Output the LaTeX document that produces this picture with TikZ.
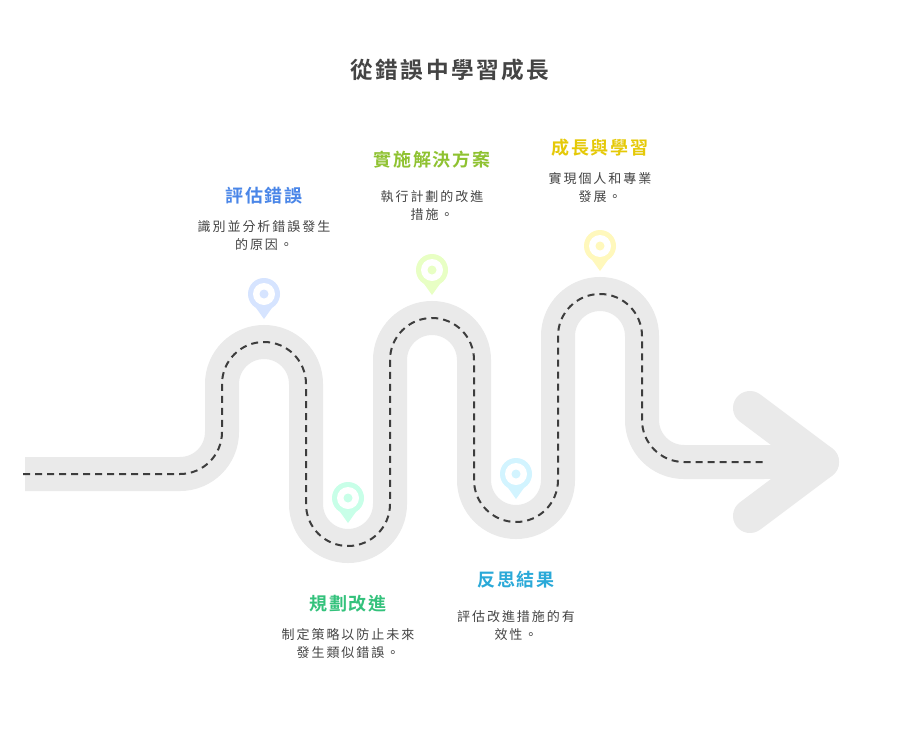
\documentclass[tikz,border=0pt]{standalone}
\usepackage{fontspec}
\setmainfont{Noto Sans CJK TC}
\newfontfamily\titlefont[LetterSpace=11,BoldFont={Noto Sans CJK TC Bold}]{Noto Sans CJK TC}
\newfontfamily\headfont[LetterSpace=10,BoldFont={Noto Sans CJK TC Bold}]{Noto Sans CJK TC}
\newfontfamily\bodyfont[LetterSpace=15]{Noto Sans CJK TC}
\definecolor{roadgrey}{HTML}{EAEAEA}
\definecolor{dashgrey}{HTML}{3D3D3D}
\definecolor{inkgrey}{HTML}{444444}
\definecolor{hblue}{HTML}{4A86E8}
\definecolor{hgreen}{HTML}{34C27C}
\definecolor{hlime}{HTML}{8FC231}
\definecolor{hcyan}{HTML}{2AA9D8}
\definecolor{hyellow}{HTML}{E5C907}
\definecolor{pblue}{HTML}{D6E4FF}
\definecolor{pgreen}{HTML}{C8FFE8}
\definecolor{plime}{HTML}{E8FFC4}
\definecolor{pcyan}{HTML}{D2F4FF}
\definecolor{pyellow}{HTML}{FFF8BC}
\newcommand{\roadline}[1]{(#1,474) -- (222,474) -- (222,342) -- (306,342) -- (306,546) -- (390,546) -- (390,318) -- (474,318) -- (474,522) -- (558,522) -- (558,294) -- (642,294) -- (642,462) -- (764,462)}
\tikzset{
  x=0.75pt, y=-0.75pt,
  roadbase/.style={draw=roadgrey, line width=25.5pt, rounded corners=31.5pt},
  roadhead/.style={draw=roadgrey, line width=25.5pt, line cap=round, line join=round},
  roaddash/.style={draw=dashgrey, line width=1.5pt, rounded corners=31.5pt, dash pattern=on 5.25pt off 3.75pt},
  titletext/.style={font=\titlefont\bfseries\fontsize{17}{20}\selectfont, text=inkgrey, inner sep=0pt},
  headtext/.style={font=\headfont\bfseries\fontsize{13.5}{16}\selectfont, inner sep=0pt},
  bodytext/.style={font=\bodyfont\fontsize{9.75}{13.5}\selectfont, text=inkgrey, align=center, inner sep=0pt},
  pics/roadpin/.style={code={
    \fill[#1] (-8,13.8) -- (0,25) -- (8,13.8) -- cycle;
    \fill[#1] (0,0) circle[radius=16];
    \fill[white] (0,0) circle[radius=11];
    \fill[#1] (0,0) circle[radius=4.5];
  }}
}
\begin{document}
\begin{tikzpicture}
\useasboundingbox (0,0) rectangle (900,732);
\fill[white] (0,0) rectangle (900,732);
\draw[roadbase] \roadline{25};
\draw[roadhead] (750,408) -- (822,462) -- (750,516);
\draw[roadhead] (764,462) -- (822,462);
\draw[roaddash] \roadline{23};
\pic at (264,294) {roadpin=pblue};
\pic at (348,498) {roadpin=pgreen};
\pic at (432,270) {roadpin=plime};
\pic at (516,474) {roadpin=pcyan};
\pic at (600,246) {roadpin=pyellow};
\node[titletext] (title) at (450,70) {從錯誤中學習成長};
\node[headtext, text=hblue] (h1) at (264,195.5) {評估錯誤};
\node[bodytext] (b1) at (264,236) {識別並分析錯誤發生\\的原因。};
\node[headtext, text=hgreen] (h2) at (348,603.5) {規劃改進};
\node[bodytext] (b2) at (348,644) {制定策略以防止未來\\發生類似錯誤。};
\node[headtext, text=hlime] (h3) at (432,159.5) {實施解決方案};
\node[bodytext] (b3) at (432,206) {執行計劃的改進\\措施。};
\node[headtext, text=hcyan] (h4) at (516,579.5) {反思結果};
\node[bodytext] (b4) at (516,626) {評估改進措施的有\\效性。};
\node[headtext, text=hyellow] (h5) at (600,147.5) {成長與學習};
\node[bodytext] (b5) at (600,188) {實現個人和專業\\發展。};
\end{tikzpicture}
\end{document}
